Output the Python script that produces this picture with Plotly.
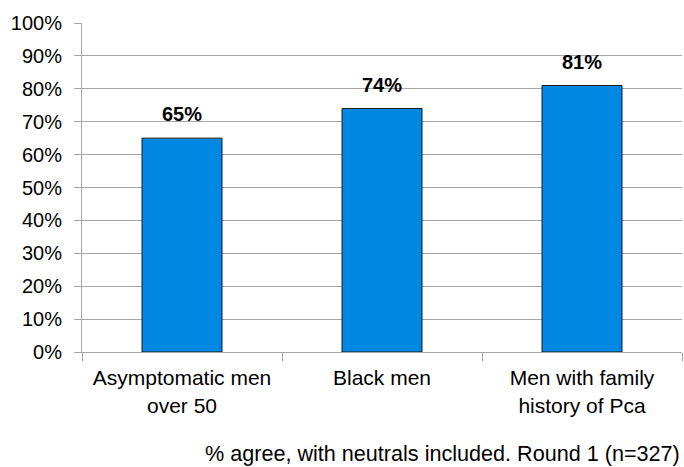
import plotly.graph_objects as go

categories = ["Asymptomatic men<br>over 50", "Black men", "Men with family<br>history of Pca"]
agree_pct = [65, 74, 81]
y_ticks = list(range(0, 101, 10))
y_tick_labels = [f"{v}%" for v in y_ticks]
footnote = "% agree, with neutrals included. Round 1 (n=327)"

FONT = "Liberation Sans, Arial, sans-serif"

fig = go.Figure(
    go.Bar(
        x=categories,
        y=agree_pct,
        width=0.4,
        marker=dict(color="#0088E2", line=dict(color="#1a1a1a", width=1)),
        hoverinfo="skip",
    )
)

# value labels above each bar
for cat, val in zip(categories, agree_pct):
    fig.add_annotation(
        x=cat, y=val, text=f"<b>{val}%</b>", showarrow=False,
        yanchor="bottom", yshift=11,
        font=dict(family=FONT, size=20, color="black"),
    )

fig.add_annotation(
    xref="paper", yref="paper", x=1.0, y=-0.31, xanchor="right", yanchor="middle",
    text=footnote, showarrow=False,
    font=dict(family=FONT, size=21.6, color="black"),
)

fig.update_layout(
    width=684, height=467,
    margin=dict(l=82, r=2, t=23, b=115),
    paper_bgcolor="white", plot_bgcolor="white",
    showlegend=False,
    font=dict(family=FONT, size=20, color="black"),
    bargap=0.6,
)
fig.update_yaxes(
    range=[0, 100], tickvals=y_ticks, ticktext=y_tick_labels,
    showgrid=True, gridcolor="#a6a6a6", gridwidth=1,
    showline=True, linecolor="#a6a6a6", linewidth=1,
    ticks="outside", ticklen=7, tickcolor="#a6a6a6",
    ticklabelstandoff=8,
    zeroline=False, tickfont=dict(family=FONT, size=20),
)
fig.update_xaxes(
    showline=True, linecolor="#a6a6a6", linewidth=1,
    ticks="outside", ticklen=8, tickcolor="#a6a6a6", tickson="boundaries",
    ticklabelstandoff=7,
    tickfont=dict(family=FONT, size=21),
)

fig.write_html("out.html")
